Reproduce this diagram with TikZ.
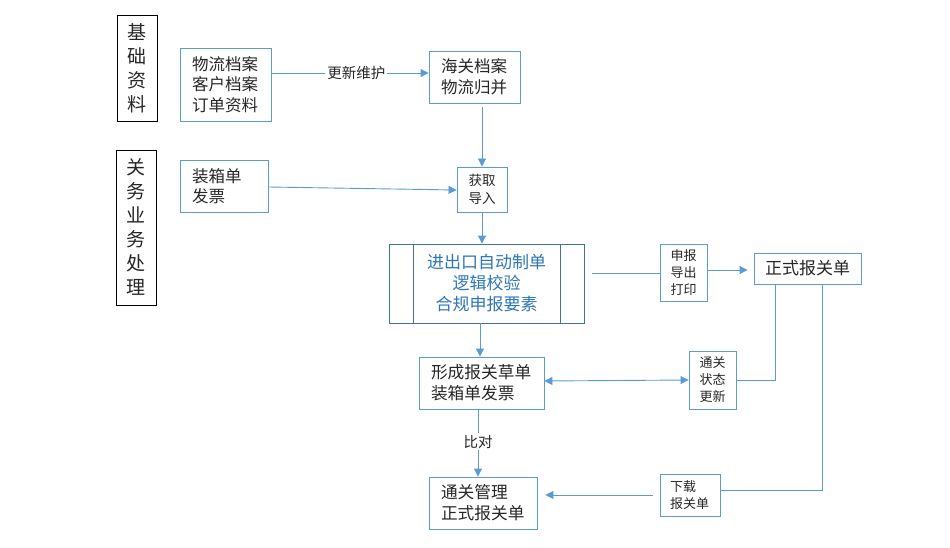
\documentclass[tikz,border=0pt]{standalone}
\usepackage{fontspec}
\setmainfont{Noto Sans CJK SC}
\usetikzlibrary{arrows.meta,calc}
\definecolor{ln}{RGB}{91,155,213}
\definecolor{mb}{RGB}{65,113,156}
\definecolor{mt}{RGB}{46,117,182}
\definecolor{tx}{RGB}{38,38,38}
\tikzset{
  box/.style={draw=ln,line width=0.9pt,inner ysep=0pt,text=tx,font=\fontsize{16.5}{20.5}\selectfont},
  lbox/.style={box,inner xsep=12pt,align=left},
  sbox/.style={draw=ln,line width=0.9pt,inner sep=0pt,align=center,text=tx,font=\fontsize{13}{17}\selectfont},
  cat/.style={draw=black,line width=0.9pt,inner sep=0pt,align=center,text=tx,font=\fontsize{19}{24}\selectfont},
  conn/.style={draw=ln,line width=0.9pt},
  arr/.style={conn,-{Triangle[length=8pt,width=8pt]}},
  darr/.style={conn,{Triangle[length=8pt,width=8pt]}-{Triangle[length=8pt,width=8pt]}},
  lab/.style={fill=white,inner sep=2pt,text=tx,font=\fontsize{14.5}{16}\selectfont}
}
\begin{document}
\begin{tikzpicture}[x=1pt,y=-1pt]
\useasboundingbox (0,0) rectangle (950,548);
% category labels
\node[cat,minimum width=40pt,minimum height=106pt] (c1) at (137,68) {基\\础\\资\\料};
\node[cat,minimum width=40pt,minimum height=155pt] (c2) at (136,227.5) {关\\务\\业\\务\\处\\理};
% boxes
\node[lbox,text width=67pt,minimum height=73pt] (wl) at (225.5,84.5) {物流档案\\客户档案\\订单资料};
\node[lbox,text width=67pt,minimum height=52pt,font=\fontsize{16.5}{21}\selectfont] (hg) at (474.5,77) {海关档案\\物流归并};
\node[sbox,minimum width=50pt,minimum height=45pt,font=\fontsize{13.5}{17.5}\selectfont] (hq) at (482,189.5) {获取\\导入};
\node[lbox,text width=64pt,minimum height=52pt] (zx) at (224,186) {装箱单\\发票};
\node[draw=mb,line width=0.9pt,minimum width=195pt,minimum height=79pt,inner sep=0pt,align=center,text=mt,font=\fontsize{17}{21}\selectfont] (mn) at (486.5,283.5) {进出口自动制单\\逻辑校验\\合规申报要素};
\draw[mb,line width=0.9pt] ([xshift=25pt]mn.north west) -- ([xshift=25pt]mn.south west);
\draw[mb,line width=0.9pt] ([xshift=-24pt]mn.north east) -- ([xshift=-24pt]mn.south east);
\node[sbox,minimum width=47pt,minimum height=57pt] (sb) at (683.5,272.5) {申报\\导出\\打印};
\node[box,minimum width=107pt,minimum height=31pt,inner xsep=0pt,font=\fontsize{17}{20}\selectfont] (zs) at (807.5,268.5) {正式报关单};
\node[lbox,text width=101pt,minimum height=52pt,font=\fontsize{16.7}{21}\selectfont] (xc) at (481.5,383) {形成报关草单\\装箱单发票};
\node[sbox,minimum width=47pt,minimum height=58pt] (tg) at (712.5,380) {通关\\状态\\更新};
\node[lbox,text width=84pt,minimum height=52pt,font=\fontsize{16.7}{21}\selectfont] (gl) at (483,503) {通关管理\\正式报关单};
\node[sbox,inner xsep=10pt,text width=40pt,align=left,minimum height=42pt] (xz) at (690,495) {下载\\报关单};
% connectors
\draw[arr] ([yshift=11.5pt]wl.east) -- node[lab,pos=0.54] {更新维护} ([yshift=4pt]hg.west);
\draw[arr,shorten <=4pt] (hq.north |- hg.south) -- (hq.north);
\draw[arr] ([yshift=-1pt]zx.east) -- ([yshift=-0.5pt]hq.west);
\draw[arr] (hq.south) -- ([xshift=-4.5pt]mn.north);
\draw[conn,shorten <=8pt] ([yshift=10.5pt]mn.east) -- ([yshift=-0.5pt]sb.west);
\draw[arr,shorten >=6pt] ([yshift=2.5pt]sb.east) -- ([yshift=-1.5pt]zs.west);
\draw[conn] ([xshift=-32.5pt]zs.south) |- (tg.east);
\draw[darr] ([yshift=2pt]xc.east) -- (tg.west);
\draw[arr] ([xshift=-6.5pt]mn.south) -- ([xshift=-1.5pt]xc.north);
\draw[arr] ([xshift=-3.5pt]xc.south) -- node[lab,pos=0.48] {比对} ([xshift=-3.5pt]xc.south |- gl.north);
\draw[conn] ([xshift=14.5pt]zs.south) |- ([yshift=5pt]xz.east);
\draw[arr,shorten <=7pt,shorten >=8pt] (xz.west) -- (gl.east |- xz.west);
\end{tikzpicture}
\end{document}
